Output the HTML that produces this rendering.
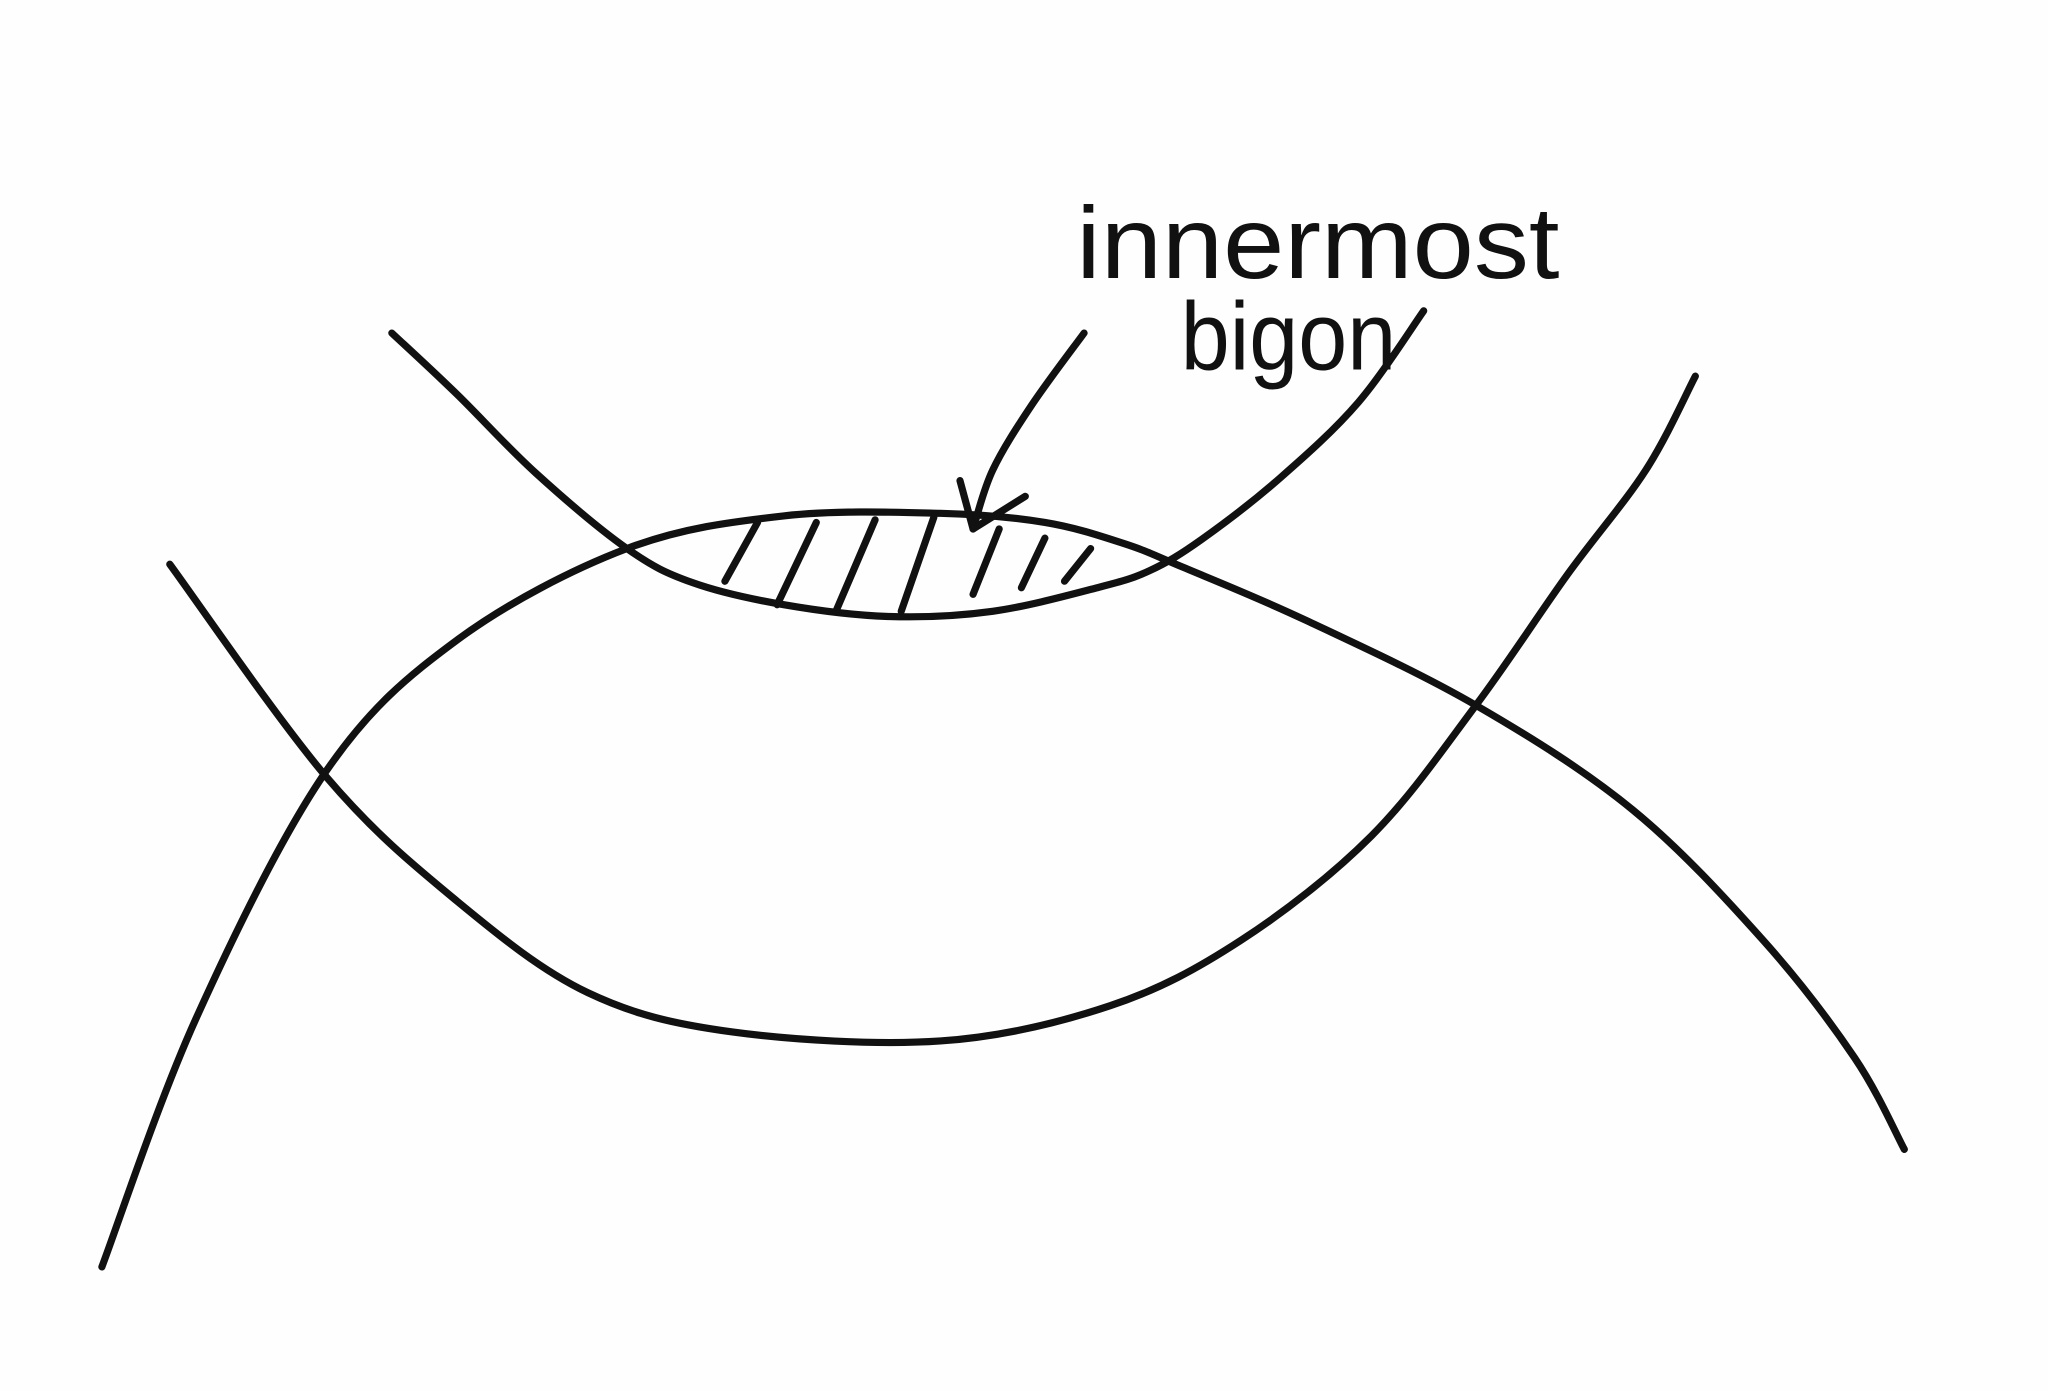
<!DOCTYPE html>
<html><head><meta charset="utf-8"><style>
html,body{margin:0;padding:0;background:#fff;}
svg{display:block;}
</style></head><body>
<svg id="s" width="2048" height="1391" viewBox="0 0 1568 1065" preserveAspectRatio="none" xmlns="http://www.w3.org/2000/svg">
<rect width="1568" height="1065" fill="#fefefe"/>
<g id="curves" fill="none" stroke="#111" stroke-width="5.5" stroke-linecap="round" stroke-linejoin="round"></g>
<text x="824" y="213" font-family="Liberation Sans, sans-serif" font-size="78" fill="#111" textLength="370" lengthAdjust="spacingAndGlyphs">innermost</text>
<text x="904" y="283" font-family="Liberation Sans, sans-serif" font-size="74" fill="#111" textLength="165" lengthAdjust="spacingAndGlyphs">bigon</text>
</svg>
<script>
const upperCurve=[[300,255],[350,302],[410,362],[480,420],[530,446],[600,463],[680,472],[760,468],[840,450],[880,437],[920,413],[980,366],[1040,308],[1090,238]];
const archCurve=[[78,970],[150,780],[250,590],[350,490],[480,420],[600,395],[720,393],[800,400],[860,416],[905,434],[1000,475],[1130,540],[1250,620],[1350,720],[1420,810],[1458,880]];
const lowerCurve=[[130,432],[250,595],[350,690],[450,760],[560,790],[720,797],[850,770],[950,720],[1050,640],[1130,540],[1200,440],[1260,360],[1298,288]];
const arrowCurve=[[830,255],[790,310],[760,360],[745,405]];
const hatches=[[555,445,580,400],[595,463,625,400],[640,468,670,398],[690,468,715,396],[745,455,765,405],[782,450,800,412],[815,445,835,420]];
const g=document.getElementById('curves');
function cr(p){let d='M'+p[0][0]+','+p[0][1];for(let i=0;i<p.length-1;i++){const a=p[i-1]||p[i],b=p[i],c=p[i+1],e=p[i+2]||c;
d+=' C'+(b[0]+(c[0]-a[0])/6)+','+(b[1]+(c[1]-a[1])/6)+' '+(c[0]-(e[0]-b[0])/6)+','+(c[1]-(e[1]-b[1])/6)+' '+c[0]+','+c[1];}return d;}
function add(d,name){const el=document.createElementNS('http://www.w3.org/2000/svg','path');el.setAttribute('d',d);


g.appendChild(el);}
add(cr(upperCurve),'upper-curve');
add(cr(archCurve),'arch-curve');
add(cr(lowerCurve),'lower-curve');
add(cr(arrowCurve),'pointer-arrow');
add('M735,368 L745,405 L785,380','arrow-head');
hatches.forEach(h=>add('M'+h[0]+','+h[1]+' L'+h[2]+','+h[3],'bigon-hatch'));
</script>
</body></html>
